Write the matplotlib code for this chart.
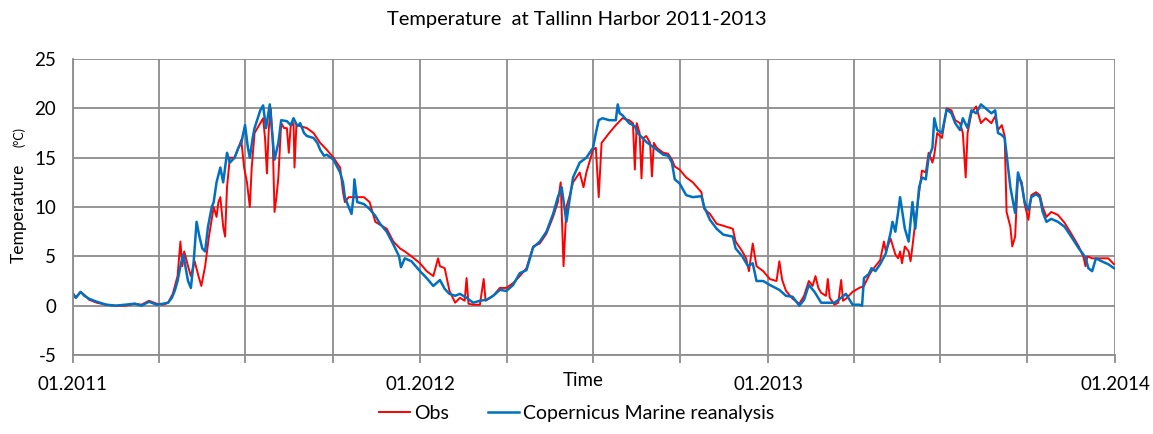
import numpy as np
import pandas as pd
import matplotlib
matplotlib.use("Agg")
import matplotlib.pyplot as plt
import matplotlib.dates as mdates

plt.rcParams["font.family"] = ["Lato", "DejaVu Sans"]
plt.rcParams["axes.unicode_minus"] = False

# Day offsets from 01.01.2011 and temperatures (degC)
obs_day = [
    0, 3, 8, 12, 17, 25, 35, 45, 55, 65,
    72, 80, 88, 95, 100, 105, 110, 113, 115, 117,
    121, 124, 128, 132, 135, 139, 143, 148, 151, 153,
    155, 158, 160, 162, 165, 170, 174, 177, 180, 183,
    186, 188, 191, 197, 200, 202, 204, 206, 208, 210,
    212, 214, 216, 219, 222, 225, 227, 229, 232, 233,
    235, 239, 246, 253, 260, 267, 274, 281, 284, 286,
    290, 295, 299, 306, 312, 318, 323, 330, 337, 344,
    349, 356, 365, 372, 379, 384, 386, 391, 396, 402,
    407, 412, 414, 416, 421, 428, 432, 434, 442, 449,
    456, 463, 470, 477, 484, 491, 498, 505, 510, 513,
    516, 519, 522, 526, 533, 537, 540, 547, 550, 553,
    556, 564, 571, 578, 585, 589, 591, 593, 596, 598,
    600, 603, 607, 609, 611, 614, 621, 626, 630, 633,
    638, 645, 652, 661, 664, 670, 677, 684, 694, 697,
    704, 708, 711, 715, 719, 726, 733, 740, 743, 746,
    750, 757, 764, 769, 774, 778, 781, 784, 787, 792,
    794, 796, 801, 805, 808, 810, 813, 820, 827, 832,
    837, 840, 844, 849, 853, 855, 860, 865, 868, 870,
    872, 875, 879, 881, 883, 886, 890, 893, 897, 900,
    904, 906, 909, 914, 919, 924, 928, 933, 936, 939,
    941, 945, 950, 955, 960, 966, 970, 973, 977, 980,
    982, 986, 988, 991, 994, 998, 1001, 1005, 1008, 1013,
    1017, 1020, 1024, 1029, 1036, 1043, 1050, 1058, 1063, 1065,
    1067, 1072, 1082, 1089, 1095,
]
obs_temp = [
    1.3, 0.8, 1.4, 1.1, 0.6, 0.3, 0.1, 0.0, 0.0, 0.2,
    0.1, 0.5, 0.2, 0.1, 0.3, 1.2, 3.0, 6.5, 4.0, 5.5,
    4.0, 3.0, 4.5, 3.0, 2.0, 4.0, 7.0, 10.0, 9.0, 10.5,
    11.0, 8.0, 7.0, 12.0, 15.0, 15.0, 16.0, 16.8, 14.0, 12.5,
    10.0, 14.0, 17.5, 18.5, 19.0, 17.0, 13.4, 18.0, 20.0, 17.0,
    9.5, 11.0, 13.0, 18.5, 18.0, 18.0, 15.5, 18.2, 18.5, 14.0,
    18.3, 18.2, 18.0, 17.5, 16.5, 15.8, 15.0, 14.0, 11.5, 10.5,
    11.0, 11.0, 11.0, 11.0, 10.5, 8.5, 8.2, 7.8, 6.5, 5.8,
    5.5, 5.0, 4.3, 3.5, 3.0, 4.8, 4.0, 3.8, 1.5, 0.3,
    0.8, 0.5, 2.8, 0.2, 0.1, 0.1, 2.7, 0.5, 1.0, 1.8,
    1.8, 2.3, 3.0, 3.8, 6.0, 6.3, 7.3, 9.0, 10.5, 12.5,
    4.0, 10.0, 11.0, 12.5, 13.5, 12.0, 13.5, 15.8, 16.0, 11.0,
    16.5, 17.5, 18.3, 19.0, 18.8, 18.5, 13.8, 18.5, 17.5, 12.9,
    17.0, 17.2, 16.5, 13.1, 16.5, 16.0, 15.5, 15.4, 14.8, 14.1,
    13.8, 13.0, 12.5, 11.5, 9.8, 9.3, 8.3, 8.1, 7.8, 6.5,
    5.5, 4.8, 3.5, 6.3, 4.0, 3.5, 2.7, 2.5, 4.5, 2.6,
    1.5, 0.7, 0.2, 1.0, 2.5, 2.0, 3.0, 1.8, 1.3, 1.0,
    2.7, 0.8, 0.1, 0.3, 2.6, 0.5, 0.7, 1.4, 1.8, 2.0,
    3.0, 3.5, 4.0, 4.6, 6.5, 5.5, 6.8, 5.2, 4.8, 5.5,
    4.3, 6.0, 5.5, 4.5, 6.0, 8.5, 11.5, 13.7, 13.5, 15.5,
    14.5, 15.3, 17.5, 17.0, 20.0, 19.8, 18.8, 18.5, 17.5, 13.0,
    17.5, 19.5, 20.2, 18.5, 19.0, 18.5, 19.2, 17.8, 18.3, 17.2,
    9.5, 8.0, 6.0, 7.0, 13.2, 12.5, 10.3, 8.7, 11.2, 11.5,
    11.2, 10.0, 9.0, 9.5, 9.2, 8.4, 7.3, 6.0, 4.9, 4.0,
    5.0, 4.8, 4.8, 4.8, 4.2,
]

rean_day = [
    0, 3, 8, 12, 17, 25, 35, 45, 55, 65,
    72, 80, 88, 95, 100, 104, 107, 110, 113, 116,
    121, 124, 127, 130, 133, 136, 139, 142, 146, 148,
    151, 155, 158, 162, 165, 170, 174, 177, 181, 184,
    186, 189, 191, 197, 200, 203, 207, 209, 212, 216,
    219, 225, 229, 232, 236, 239, 243, 246, 253, 257,
    260, 264, 267, 274, 281, 284, 286, 290, 293, 295,
    296, 299, 306, 312, 318, 323, 330, 337, 343, 345,
    349, 356, 365, 372, 379, 386, 391, 396, 402, 407,
    414, 421, 428, 435, 442, 449, 456, 463, 470, 477,
    484, 491, 498, 505, 510, 514, 519, 522, 526, 533,
    540, 547, 550, 553, 557, 564, 571, 573, 575, 578,
    585, 591, 594, 603, 614, 621, 626, 630, 633, 638,
    645, 652, 661, 664, 670, 677, 684, 694, 697, 704,
    710, 715, 719, 726, 733, 743, 750, 757, 764, 769,
    774, 780, 787, 794, 801, 808, 813, 820, 827, 830,
    832, 837, 840, 844, 849, 855, 860, 862, 865, 868,
    870, 875, 879, 883, 886, 890, 893, 897, 900, 904,
    906, 909, 914, 919, 924, 928, 933, 936, 941, 945,
    950, 955, 960, 966, 970, 973, 977, 980, 986, 991,
    994, 998, 1001, 1005, 1008, 1013, 1017, 1020, 1024, 1029,
    1036, 1043, 1050, 1058, 1065, 1068, 1072, 1076, 1082, 1089,
    1095,
]
rean_temp = [
    1.2, 0.8, 1.4, 1.0, 0.7, 0.4, 0.1, 0.0, 0.1, 0.2,
    0.0, 0.4, 0.1, 0.2, 0.3, 0.8, 1.5, 2.5, 4.0, 5.2,
    2.5, 1.8, 4.5, 8.5, 7.0, 5.8, 5.5, 8.0, 10.0, 10.5,
    12.5, 14.0, 12.5, 15.5, 14.5, 15.0, 16.0, 16.5, 18.3, 16.0,
    15.0, 17.0, 18.0, 19.8, 20.3, 18.0, 20.4, 18.0, 14.8, 16.5,
    18.8, 18.7, 18.3, 19.0, 18.2, 18.5, 17.5, 17.2, 17.0, 16.5,
    15.8, 15.2, 15.3, 14.8, 13.5, 12.5, 11.0, 10.0, 9.3, 11.0,
    12.8, 10.5, 10.3, 9.8, 9.1, 8.3, 7.5, 6.2, 5.0, 3.9,
    4.8, 4.5, 3.5, 2.8, 2.0, 2.6, 1.7, 1.2, 1.0, 1.2,
    0.8, 0.3, 0.5, 0.6, 1.0, 1.6, 1.5, 2.1, 3.3, 3.6,
    5.9, 6.5, 7.5, 9.3, 11.0, 12.0, 8.5, 10.5, 13.0, 14.5,
    15.0, 16.0, 17.5, 18.8, 19.0, 18.8, 18.8, 20.4, 19.5, 19.3,
    18.5, 18.2, 17.5, 16.6, 15.8, 15.3, 15.2, 14.5, 12.8, 12.4,
    11.2, 11.0, 11.1, 10.0, 8.7, 7.8, 7.2, 7.0, 5.8, 5.0,
    4.0, 4.3, 2.5, 2.5, 2.1, 1.6, 1.0, 0.9, 0.0, 0.6,
    2.1, 1.4, 0.3, 0.3, 0.3, 0.8, 1.2, 0.1, 0.1, 0.0,
    2.8, 3.2, 3.8, 3.5, 4.2, 5.3, 7.4, 8.5, 7.5, 9.5,
    11.0, 7.8, 6.5, 10.5, 7.8, 12.0, 13.0, 12.8, 15.0, 16.0,
    19.0, 17.8, 17.5, 19.9, 19.5, 18.5, 17.8, 19.0, 18.0, 19.8,
    19.5, 20.4, 20.0, 19.5, 19.8, 17.5, 17.3, 17.0, 12.0, 9.4,
    13.5, 12.2, 10.5, 9.7, 11.0, 11.3, 11.0, 9.5, 8.5, 8.8,
    8.5, 8.0, 7.0, 5.8, 4.9, 3.8, 3.5, 4.8, 4.5, 4.2,
    3.8,
]

start = pd.Timestamp("2011-01-01")
end = pd.Timestamp("2014-01-01")
obs_dates = start + pd.to_timedelta(obs_day, unit="D")
rean_dates = start + pd.to_timedelta(rean_day, unit="D")

GRID = "#8c8c8c"

fig = plt.figure(figsize=(11.53, 4.34), dpi=100)
ax = fig.add_axes([0.0633, 0.182, 0.9037, 0.682])

ax.plot(obs_dates, obs_temp, color="#ff0000", lw=1.4, label="Obs")
ax.plot(rean_dates, rean_temp, color="#0070c0", lw=1.8,
        label="Copernicus Marine reanalysis")

ax.set_xlim(start, end)
ax.set_ylim(-5, 25)
ax.set_yticks(np.arange(-5, 26, 5))

ax.xaxis.set_major_locator(mdates.YearLocator())
ax.xaxis.set_major_formatter(mdates.DateFormatter("%m.%Y"))
ax.xaxis.set_minor_locator(mdates.MonthLocator(bymonth=[4, 7, 10]))

ax.grid(True, which="both", axis="x", color=GRID, lw=1.3)
ax.grid(True, which="major", axis="y", color=GRID, lw=1.3)
ax.set_axisbelow(True)

for side in ["top", "right"]:
    ax.spines[side].set_visible(False)
ax.spines["left"].set_color(GRID)
ax.spines["bottom"].set_color(GRID)
ax.spines["left"].set_linewidth(1.3)
ax.spines["bottom"].set_linewidth(1.3)

ax.tick_params(axis="x", which="both", length=6, color=GRID, width=1.3,
               pad=9, labelsize=13.5)
ax.tick_params(axis="y", length=0, pad=12, labelsize=13.5)

ax.set_xlabel("Time", fontsize=13.5)
ax.xaxis.set_label_coords(0.49, -0.058)
ax.xaxis.label.set_va("top")

ax.set_ylabel("Temperature", fontsize=12.5, va="center")
ax.yaxis.set_label_coords(-0.052, 0.48)
ax.text(-0.052, 0.735, "(\u00b0C)", transform=ax.transAxes, rotation=90,
        ha="center", va="center", fontsize=9)

fig.suptitle("Temperature  at Tallinn Harbor 2011-2013", y=0.975, fontsize=14.5)

fig.legend(loc="center", bbox_to_anchor=(0.5, 0.048), ncol=2, frameon=False,
           fontsize=14, handlelength=1.6, handletextpad=0.2, columnspacing=2.0)

fig.savefig("out.png", dpi=100)
